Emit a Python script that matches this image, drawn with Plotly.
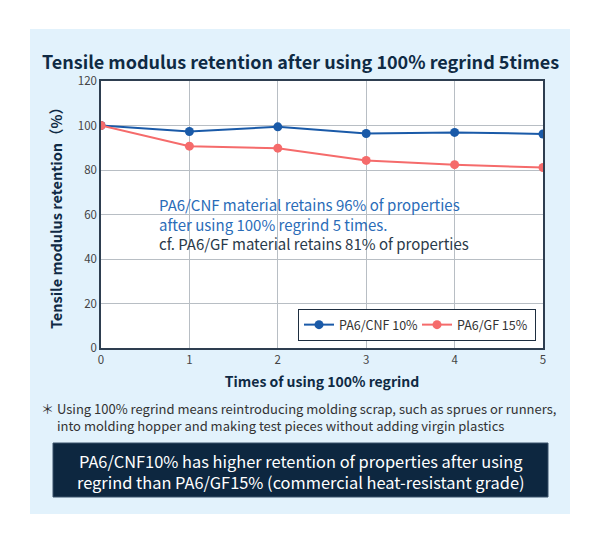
import plotly.graph_objects as go

x_vals = [0, 1, 2, 3, 4, 5]
cnf_vals = [100, 97.3, 99.4, 96.4, 96.9, 96.2]
gf_vals = [100, 90.7, 89.8, 84.3, 82.4, 81.1]
series_names = ["PA6/CNF 10%", "PA6/GF 15%"]
y_ticks = [0, 20, 40, 60, 80, 100, 120]

W, H = 600, 546
L, R, T, B = 101, 57, 81, 198
PW, PH = W - L - R, H - T - B

def px(x):
    return (x - L) / PW

def py(y):
    return (H - B - y) / PH

BLUE = "#1a5aa8"
RED = "#f56b6b"
NAVY = "#0f2a44"
FONT = "Noto Sans CJK JP"
PANEL = "#e2f2fc"

fig = go.Figure()
fig.add_trace(go.Scatter(x=x_vals, y=cnf_vals, mode="lines+markers", name=series_names[0],
                         line=dict(color=BLUE, width=2), marker=dict(color=BLUE, size=9)))
fig.add_trace(go.Scatter(x=x_vals, y=gf_vals, mode="lines+markers", name=series_names[1],
                         line=dict(color=RED, width=2), marker=dict(color=RED, size=9)))

def wrect(x0, x1, y0, y1):
    return dict(type="rect", xref="paper", yref="paper", x0=px(x0), x1=px(x1), y0=py(y1), y1=py(y0),
                fillcolor="white", line=dict(width=0), layer="below")

shapes = [
    wrect(0, 30, 0, 546),
    wrect(570, 600, 0, 546),
    wrect(0, 600, 0, 29),
    wrect(0, 600, 514, 546),
    dict(type="rect", xref="paper", yref="paper", x0=px(142), x1=px(483), y0=py(268), y1=py(182),
         fillcolor="white", line=dict(width=0), layer="between"),
    dict(type="rect", xref="paper", yref="paper", x0=px(53), x1=px(548), y0=py(497), y1=py(443),
         fillcolor="#0d2740", line=dict(width=1, color="#3a536b"), layer="above"),
]

annotations = [
    dict(text="<b>Tensile modulus retention after using 100% regrind 5times</b>", xref="paper", yref="paper",
         x=px(300), y=py(61), xanchor="center", yanchor="middle", showarrow=False,
         font=dict(size=18, color="#0f2a44", family=FONT)),
    dict(text="PA6/CNF material retains 96% of properties", xref="paper", yref="paper",
         x=px(157), y=py(204), xanchor="left", yanchor="middle", showarrow=False,
         font=dict(size=15, color="#2a6cb8", family=FONT)),
    dict(text="after using 100% regrind 5 times.", xref="paper", yref="paper",
         x=px(157), y=py(224), xanchor="left", yanchor="middle", showarrow=False,
         font=dict(size=15, color="#2a6cb8", family=FONT)),
    dict(text="cf. PA6/GF material retains 81% of properties", xref="paper", yref="paper",
         x=px(157), y=py(244), xanchor="left", yanchor="middle", showarrow=False,
         font=dict(size=15, color="#2a3a4a", family=FONT)),
    dict(text="＊ Using 100% regrind means reintroducing molding scrap, such as sprues or runners,<br>"
              "\u3000 into molding hopper and making test pieces without adding virgin plastics",
         xref="paper", yref="paper", x=px(39), y=py(417), xanchor="left", yanchor="middle", showarrow=False,
         align="left", font=dict(size=13, color="#333333", family=FONT)),
    dict(text="PA6/CNF10% has higher retention of properties after using<br>regrind than PA6/GF15% (commercial heat-resistant grade)",
         xref="paper", yref="paper", x=px(301), y=py(471), xanchor="center", yanchor="middle", showarrow=False,
         align="center", font=dict(size=16.4, color="white", family=FONT)),
]

fig.update_layout(
    width=W, height=H,
    margin=dict(l=L, r=R, t=T, b=B),
    paper_bgcolor=PANEL, plot_bgcolor="white",
    font=dict(family=FONT, color="#333333"),
    shapes=shapes, annotations=annotations,
    legend=dict(orientation="h", x=px(536), y=py(309), xanchor="right", yanchor="top",
                bgcolor="white", bordercolor="#1e2e40", borderwidth=1,
                font=dict(size=12.5, color="#333333", family=FONT),
                itemwidth=30, entrywidth=73, tracegroupgap=0),
    xaxis=dict(range=[0, 5], tickvals=x_vals, showgrid=True, gridcolor="#b8bec4", gridwidth=1.2,
               showline=True, linecolor="#2e3e50", linewidth=1.5, mirror=True, zeroline=False,
               ticks="", tickfont=dict(size=11.5, color="#444444"),
               title=dict(text="<b>Times of using 100% regrind</b>", standoff=12,
                          font=dict(size=14, color="#0f2a44"))),
    yaxis=dict(range=[0, 120], tickvals=y_ticks, showgrid=True, gridcolor="#b8bec4", gridwidth=1.2,
               showline=True, linecolor="#2e3e50", linewidth=1.5, mirror=True, zeroline=False,
               ticks="", tickfont=dict(size=11.5, color="#444444"),
               title=dict(text="<b>Tensile modulus retention（%）</b>", standoff=12,
                          font=dict(size=14.5, color="#0f2a44"))),
)

fig.write_html("out.html", post_script="document.body.style.margin='0';",
               config={"displayModeBar": False})
